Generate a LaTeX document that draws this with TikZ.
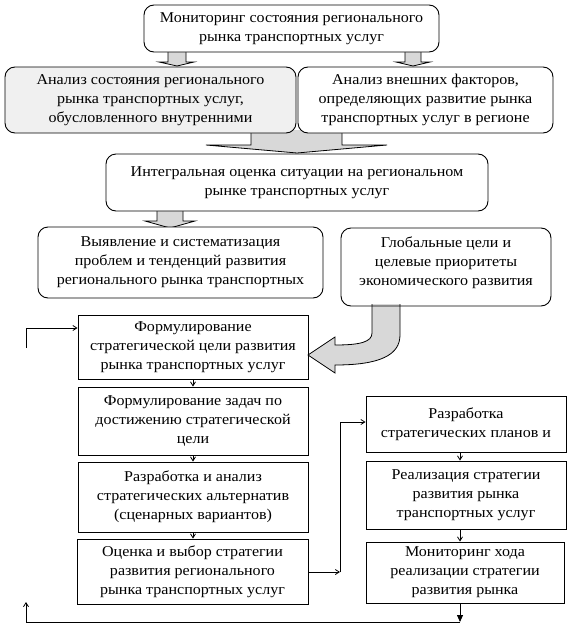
\documentclass[tikz,border=0pt]{standalone}
\usepackage{fontspec}
\setmainfont{Liberation Serif}[FakeStretch=1.07]
\usetikzlibrary{arrows.meta}
\definecolor{arrgray}{RGB}{216,216,216}
\definecolor{boxgray}{RGB}{240,240,240}
\begin{document}
\begin{tikzpicture}[x=1pt,y=-1pt,
  every node/.style={font=\fontsize{15}{19}\selectfont, align=center, inner sep=0pt},
  rbox/.style={draw, line width=0.9pt, rounded corners=10pt},
  sbox/.style={draw, line width=0.9pt},
  blk/.style={fill=arrgray, draw, line width=0.8pt, line join=miter},
  arr/.style={line width=0.8pt, -{Straight Barb[length=4pt,width=5pt]}},
  farr/.style={line width=0.8pt, -{Triangle[length=7pt,width=6pt]}}]
\useasboundingbox (0,0) rectangle (568,624);

% block arrows (drawn first, under the boxes)
\path[blk] (168,50) -- (168,62) -- (159,62) -- (177,66) -- (194,62) -- (186,62) -- (186,50);
\path[blk] (405,50) -- (405,62) -- (396,62) -- (413,66) -- (430,62) -- (421,62) -- (421,50);
\path[blk] (251,130) -- (251,145) -- (206,145) -- (297,153) -- (387,145) -- (342,145) -- (342,130);
\path[blk] (157,209) -- (157,221) -- (145,221) -- (170,228) -- (195,221) -- (183,221) -- (183,209);
\path[blk] (372,304) -- (372,333) .. controls (372,342) and (360,345) .. (335,345)
  -- (335,337) -- (308,355) -- (335,373) -- (335,365)
  .. controls (380,365) and (400,355) .. (400,335) -- (400,304);

% rounded boxes
\node[rbox, fill=white, minimum width=295, minimum height=47] (T) at (291.5,28.5)
  {Мониторинг состояния регионального\\рынка транспортных услуг};
\node[rbox, fill=boxgray, minimum width=291, minimum height=66] (A1) at (150.5,100)
  {Анализ состояния регионального\\рынка транспортных услуг,\\обусловленного внутренними};
\node[rbox, fill=white, minimum width=255, minimum height=66] (A2) at (425.5,100)
  {Анализ внешних факторов,\\определяющих развитие рынка\\транспортных услуг в регионе};
\node[rbox, fill=white, minimum width=382, minimum height=57] (I) at (297,182.5)
  {Интегральная оценка ситуации на региональном\\рынке транспортных услуг};
\node[rbox, fill=white, minimum width=285, minimum height=71] (V) at (180.5,262.5)
  {Выявление и систематизация\\проблем и тенденций развития\\регионального рынка транспортных};
\node[rbox, minimum width=210, minimum height=78] (G) at (446,267) {};
\node (Gt) at (446,263)
  {Глобальные цели и\\целевые приоритеты\\экономического развития};

% square boxes, left column
\node[sbox, minimum width=230, minimum height=64] (F1) at (193,347)
  {Формулирование\\стратегической цели развития\\рынка транспортных услуг};
\node[sbox, minimum width=230, minimum height=68] (F2) at (193,421)
  {Формулирование задач по\\достижению стратегической\\цели};
\node[sbox, minimum width=230, minimum height=70] (F3) at (193,497)
  {Разработка и анализ\\стратегических альтернатив\\(сценарных вариантов)};
\node[sbox, minimum width=231, minimum height=65] (F4) at (192.5,571.5)
  {Оценка и выбор стратегии\\развития регионального\\рынка транспортных услуг};

% square boxes, right column
\node[sbox, minimum width=200, minimum height=56] (R1) at (466,424)
  {Разработка\\стратегических планов и};
\node[sbox, minimum width=200, minimum height=68] (R2) at (466,495)
  {Реализация стратегии\\развития рынка\\транспортных услуг};
\node[sbox, minimum width=198, minimum height=61] (R3) at (465,572.5)
  {Мониторинг хода\\реализации стратегии\\развития рынка};

% coordinates for connectors
\coordinate (j1) at (340,572);
\coordinate (j2) at (340,422);
\coordinate (b1) at (460,622);
\coordinate (b2) at (26,622);
\coordinate (b3) at (26,602);
\coordinate (c1) at (26,348);
\coordinate (c2) at (26,328);

% thin connectors
\draw[arr] (F1.south) -- (F2.north);
\draw[arr] (F2.south) -- (F3.north);
\draw[arr] (F3.south) -- (F3.south |- F4.north);
\draw[arr] (F4.east |- j1) -- (j1);
\draw[arr] (j1) -- (j2) -- (R1.west |- j2);
\draw[arr] (R1.south -| b1) -- (R2.north -| b1);
\draw[arr] (R2.south -| b1) -- (R3.north -| b1);
\draw[farr] (R3.south -| b1) -- (b1);
\draw[arr] (b1) -- (b2) -- (b3);
\draw[arr] (c1) -- (c2) -- (F1.west |- c2);
\end{tikzpicture}
\end{document}
